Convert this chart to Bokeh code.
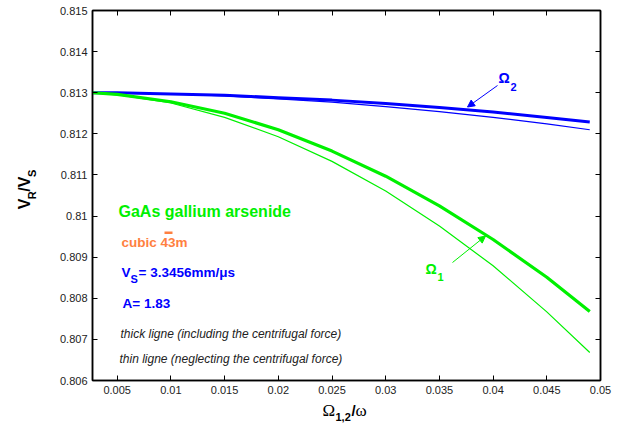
import math
from bokeh.plotting import figure
from bokeh.layouts import column, row
from bokeh.models import (Range1d, FixedTicker, LinearAxis, CustomJSTickFormatter,
                          Label, Arrow, NormalHead, BoxAnnotation)
from bokeh.embed import file_html
from bokeh.resources import INLINE

# Normalised frequency Omega_{1,2}/omega
omega = [0.0027, 0.005, 0.01, 0.015, 0.02, 0.025, 0.03, 0.035, 0.04, 0.045, 0.049]

# V_R/V_S for rotation about Omega_2 (blue) and Omega_1 (green)
blue_thick = [0.81300, 0.81300, 0.81297, 0.81294, 0.81288, 0.81282, 0.81274, 0.81264, 0.81253, 0.81240, 0.81229]
blue_thin = [0.81300, 0.81299, 0.81297, 0.81292, 0.81285, 0.81277, 0.81266, 0.81254, 0.81240, 0.81224, 0.81210]
green_thick = [0.81300, 0.81296, 0.81278, 0.81250, 0.81210, 0.81158, 0.81097, 0.81025, 0.80943, 0.80851, 0.80768]
green_thin = [0.81300, 0.81295, 0.81275, 0.81240, 0.81193, 0.81133, 0.81061, 0.80976, 0.80879, 0.80767, 0.80668]

x_ticks = [0.005, 0.01, 0.015, 0.02, 0.025, 0.03, 0.035, 0.04, 0.045, 0.05]
y_ticks = [0.806, 0.807, 0.808, 0.809, 0.81, 0.811, 0.812, 0.813, 0.814, 0.815]

W, H = 617, 430
YLAB_W = 45          # strip holding the vertical axis title
XLAB_H = 28          # strip holding the horizontal axis title
X0, X1 = 0.0027, 0.05
Y0, Y1 = 0.806, 0.815
FL, FT, FW, FH = 92, 10, 508, 370   # frame box on the page (px)

BLUE = "#0000ff"
GREEN = "#00f000"
ORANGE = "#ff8040"
FONT = "Liberation Sans"
SERIF = "Liberation Serif"


def dx(px):
    return X0 + (px - FL) * (X1 - X0) / FW


def dy(py):
    return Y1 - (py - FT) * (Y1 - Y0) / FH


p = figure(width=W - YLAB_W, height=H - XLAB_H, output_backend="svg", toolbar_location=None,
           x_range=Range1d(X0, X1), y_range=Range1d(Y0, Y1),
           min_border_left=FL - YLAB_W, min_border_right=W - FL - FW,
           min_border_top=FT, min_border_bottom=H - XLAB_H - FT - FH)
p.xgrid.visible = False
p.ygrid.visible = False
p.outline_line_color = "black"
p.outline_line_width = 1.5
p.background_fill_color = "white"
p.border_fill_color = "white"

fmt = CustomJSTickFormatter(code="return parseFloat(tick.toFixed(4)).toString();")


def style_axis(ax, ticks, show_labels):
    ax.ticker = FixedTicker(ticks=ticks)
    ax.formatter = fmt
    ax.major_tick_in = 5
    ax.major_tick_out = 0
    ax.minor_tick_line_color = None
    ax.axis_line_color = "black"
    ax.axis_line_width = 1.5
    ax.major_tick_line_color = "black"
    ax.major_tick_line_width = 1
    ax.major_label_text_font = FONT
    if show_labels:
        ax.major_label_text_font_size = "11px"
        ax.major_label_text_color = "#222222"
        ax.major_label_standoff = 5
    else:
        ax.major_label_text_font_size = "0px"
        ax.major_label_text_color = None
        ax.major_label_standoff = 0


style_axis(p.xaxis[0], x_ticks, True)
style_axis(p.yaxis[0], y_ticks, True)
top = LinearAxis()
right = LinearAxis()
style_axis(top, x_ticks, False)
style_axis(right, y_ticks, False)
p.add_layout(top, "above")
p.add_layout(right, "right")

# curves: thin = neglecting centrifugal force, thick = including it
p.line(omega, blue_thin, line_color=BLUE, line_width=1.2)
p.line(omega, green_thin, line_color=GREEN, line_width=1.2)
p.line(omega, blue_thick, line_color=BLUE, line_width=3)
p.line(omega, green_thick, line_color=GREEN, line_width=3.2)


def text(fig, t, x, y, color, size, style="bold", angle=0.0, align="left", font=FONT):
    fig.add_layout(Label(x=x, y=y, text=t, text_color=color,
                         text_font=font, text_font_size=size, text_font_style=style,
                         text_align=align, text_baseline="middle", angle=angle))


def ptext(t, px, py, color, size, style="bold"):
    text(p, t, dx(px), dy(py), color, size, style)


# annotation block
ptext("GaAs gallium arsenide", 118, 211, GREEN, "16px")
ptext("cubic  43m", 121, 242, ORANGE, "13.5px")
p.add_layout(BoxAnnotation(left=dx(164), right=dx(172), top=dy(231), bottom=dy(233.5),
                           fill_color=ORANGE, fill_alpha=1, line_color=None))
ptext("V", 121, 272, BLUE, "13.5px")
ptext("S", 130, 278, BLUE, "11px")
ptext("= 3.3456mm/\u03bcs", 138, 272, BLUE, "13.5px")
ptext("A= 1.83", 122, 303, BLUE, "13.5px")
ptext("thick ligne (including the centrifugal force)", 120, 333, "#222222", "12px", "italic")
ptext("thin ligne (neglecting the centrifugal force)", 119, 358, "#222222", "12px", "italic")

# curve labels with arrows
ptext("\u03a9", 498, 77, BLUE, "14px")
ptext("2", 510, 86, BLUE, "11px")
p.add_layout(Arrow(x_start=dx(497), y_start=dy(85), x_end=dx(467), y_end=dy(106.5),
                   line_color=BLUE, line_width=1,
                   end=NormalHead(size=7, fill_color=BLUE, line_color=BLUE)))
ptext("\u03a9", 425, 268, GREEN, "14px")
ptext("1", 437, 276, GREEN, "11px")
p.add_layout(Arrow(x_start=dx(452), y_start=dy(262), x_end=dx(485), y_end=dy(235.5),
                   line_color=GREEN, line_width=1,
                   end=NormalHead(size=7, fill_color=GREEN, line_color=GREEN)))


def strip(width, height):
    # plain drawing area whose data units are pixels measured from its top-left corner
    f = figure(width=width, height=height, output_backend="svg", toolbar_location=None,
               x_range=Range1d(0, width), y_range=Range1d(height, 0),
               x_axis_location=None, y_axis_location=None,
               min_border=0, min_border_left=0, min_border_right=0,
               min_border_top=0, min_border_bottom=0)
    f.grid.visible = False
    f.outline_line_color = None
    f.background_fill_color = "white"
    f.border_fill_color = "white"
    return f


# vertical axis title V_R/V_S, read bottom to top
ylab = strip(YLAB_W, H - XLAB_H)
rot = math.pi / 2
text(ylab, "V", 24, 216, "black", "16px", angle=rot)
text(ylab, "R", 31, 205, "black", "11px", angle=rot)
text(ylab, "/V", 24, 197, "black", "16px", angle=rot)
text(ylab, "S", 31, 181, "black", "11px", angle=rot)

# horizontal axis title Omega_{1,2}/omega
xlab = strip(W, XLAB_H)
text(xlab, "\u03a9", 322, 8, "black", "17px", style="normal", font=SERIF)
text(xlab, "1,2", 335, 14, "black", "11px")
text(xlab, "/", 351, 8, "black", "15px")
text(xlab, "\u03c9", 355, 8, "black", "17px", style="normal", font=SERIF)

layout = column(row(ylab, p, spacing=0), xlab, spacing=0)
open("out.html", "w").write(file_html(layout, INLINE))
